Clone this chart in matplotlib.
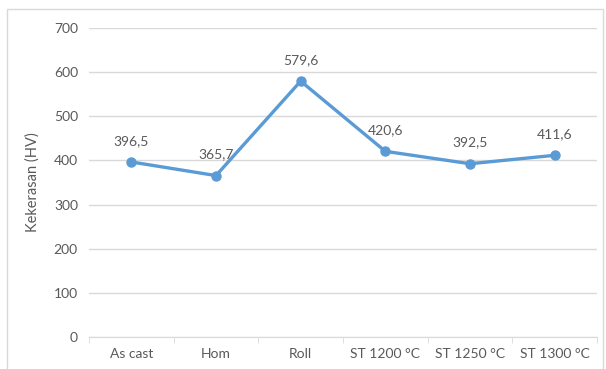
import matplotlib.pyplot as plt
from matplotlib.patches import Rectangle
import numpy as np

categories = ["As cast", "Hom", "Roll", "ST 1200 °C", "ST 1250 °C", "ST 1300 °C"]
hardness = [396.5, 365.7, 579.6, 420.6, 392.5, 411.6]
labels = ["396,5", "365,7", "579,6", "420,6", "392,5", "411,6"]
y_ticks = [0, 100, 200, 300, 400, 500, 600, 700]

plt.rcParams["font.family"] = ["Lato", "DejaVu Sans"]
text_col = "#595959"
grid_col = "#d9d9d9"
blue = "#5b9bd5"

fig = plt.figure(figsize=(6.06, 3.69), dpi=100)
# chart border
fig.patches.append(Rectangle((7 / 606, -0.05), 596 / 606, 1.05 - 9 / 369,
                             transform=fig.transFigure, fill=False,
                             edgecolor=grid_col, linewidth=1))
ax = fig.add_axes([89 / 606, 32 / 369, 508 / 606, 309 / 369])

x = np.arange(len(categories))
ax.plot(x, hardness, color=blue, linewidth=2.4, marker="o", markersize=6.5, zorder=3)
for xi, yi, lab in zip(x, hardness, labels):
    ax.annotate(lab, (xi, yi), xytext=(0, 11), textcoords="offset points",
                ha="center", va="bottom", fontsize=10, color=text_col)

ax.set_xlim(-0.5, len(categories) - 0.5)
ax.set_ylim(0, 700)
ax.set_yticks(y_ticks)
ax.set_yticklabels([str(v) for v in y_ticks])
ax.set_xticks(x)
ax.set_xticklabels(categories)
ax.set_xticks(np.arange(-0.5, len(categories)), minor=True)
ax.tick_params(axis="x", which="major", length=0, pad=8, labelsize=10, labelcolor=text_col)
ax.tick_params(axis="x", which="minor", length=4, color=grid_col)
ax.tick_params(axis="y", length=0, pad=8, labelsize=10, labelcolor=text_col)
ax.grid(axis="y", color=grid_col, linewidth=1)
ax.set_axisbelow(True)
for side in ["top", "right", "left"]:
    ax.spines[side].set_visible(False)
ax.spines["bottom"].set_color(grid_col)
ax.set_ylabel("Kekerasan (HV)", fontsize=10.5, color=text_col, labelpad=10)

fig.savefig("out.png", dpi=100)
